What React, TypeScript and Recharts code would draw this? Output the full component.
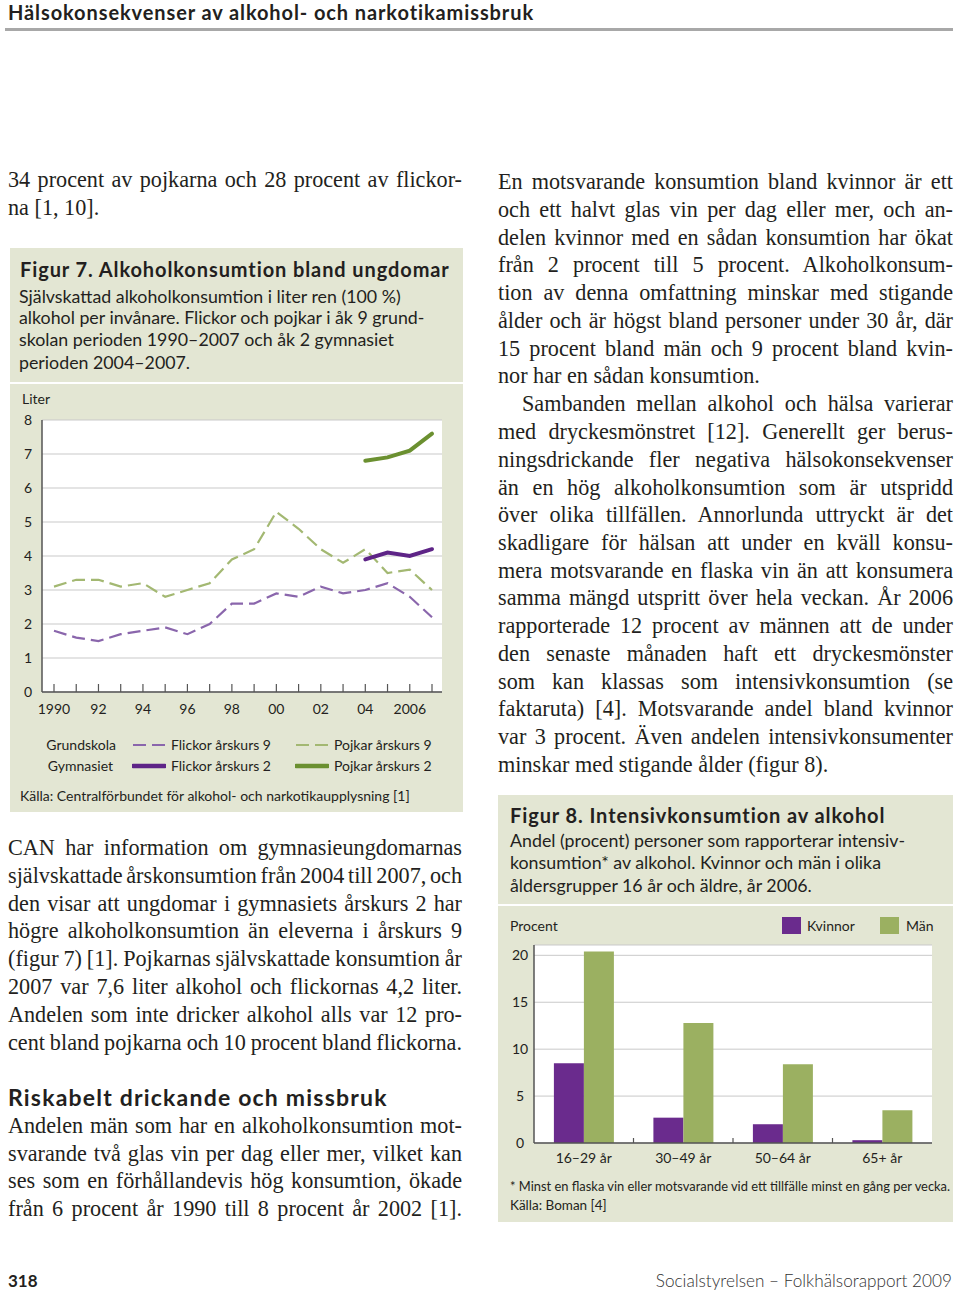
import React from 'react'
import { LineChart, Line, XAxis, YAxis, CartesianGrid, BarChart, Bar } from 'recharts'

// Figur 7 – liter ren alkohol per år
const years = [1990, 1991, 1992, 1993, 1994, 1995, 1996, 1997, 1998, 1999, 2000, 2001, 2002, 2003, 2004, 2005, 2006, 2007]
const flickor9 = [1.8, 1.6, 1.5, 1.7, 1.8, 1.9, 1.7, 2.0, 2.6, 2.6, 2.9, 2.8, 3.1, 2.9, 3.0, 3.2, 2.8, 2.2]
const pojkar9 = [3.1, 3.3, 3.3, 3.1, 3.2, 2.8, 3.0, 3.2, 3.9, 4.2, 5.3, 4.8, 4.2, 3.8, 4.2, 3.5, 3.6, 3.0]
const gymYears = [2004, 2005, 2006, 2007]
const flickor2 = [3.9, 4.1, 4.0, 4.2]
const pojkar2 = [6.8, 6.9, 7.1, 7.6]
const literTicks = [0, 1, 2, 3, 4, 5, 6, 7, 8]

// Figur 8 – intensivkonsumtion, procent
const ageGroups = ['16–29 år', '30–49 år', '50–64 år', '65+ år']
const kvinnor = [8.5, 2.7, 2.0, 0.3]
const man = [20.4, 12.8, 8.4, 3.5]
const procentTicks = [0, 5, 10, 15, 20]

const SERIF = '"Liberation Serif", "Times New Roman", serif'
const SANS = 'Lato, "Open Sans", sans-serif'
const INK = '#231f20'
const BOX = '#e3e6d3'

const PURPLE_D = '#8a66ac'
const GREEN_D = '#a3b872'
const PURPLE = '#5e2487'
const GREEN = '#6b9030'
const BAR_PURPLE = '#6a2b8d'
const BAR_GREEN = '#9bb061'

const lineData = years.map((year, i) => {
  const g = gymYears.indexOf(year)
  return {
    year,
    f9: flickor9[i],
    p9: pojkar9[i],
    f2: g >= 0 ? flickor2[g] : null,
    p2: g >= 0 ? pojkar2[g] : null,
  }
})

const barData = ageGroups.map((group, i) => ({ group, kvinnor: kvinnor[i], man: man[i] }))

const yearLabel = (y: number) => {
  if (y % 2 !== 0) return ''
  if (y === 1990 || y === 2006) return String(y)
  return String(y).slice(2)
}

// text lines of the page (each rendered justified on its own)
const leftTop = [
  { t: '34 procent av pojkarna och 28 procent av flickor-', y: 180 },
  { t: 'na [1, 10].', y: 208, last: true },
]
const leftMid = [
  { t: 'CAN har information om gymnasieungdomarnas', y: 848 },
  { t: 'självskattade årskonsumtion från 2004 till 2007, och', y: 876 },
  { t: 'den visar att ungdomar i gymnasiets årskurs 2 har', y: 904 },
  { t: 'högre alkoholkonsumtion än eleverna i årskurs 9', y: 931 },
  { t: '(figur 7) [1]. Pojkarnas självskattade konsumtion år', y: 959 },
  { t: '2007 var 7,6 liter alkohol och flickornas 4,2 liter.', y: 987 },
  { t: 'Andelen som inte dricker alkohol alls var 12 pro-', y: 1015 },
  { t: 'cent bland pojkarna och 10 procent bland flickorna.', y: 1043 },
]
const leftBottom = [
  { t: 'Andelen män som har en alkoholkonsumtion mot-', y: 1126 },
  { t: 'svarande två glas vin per dag eller mer, vilket kan', y: 1154 },
  { t: 'ses som en förhållandevis hög konsumtion, ökade', y: 1181 },
  { t: 'från 6 procent år 1990 till 8 procent år 2002 [1].', y: 1209 },
]
const rightText = [
  { t: 'En motsvarande konsumtion bland kvinnor är ett', y: 182 },
  { t: 'och ett halvt glas vin per dag eller mer, och an-', y: 210 },
  { t: 'delen kvinnor med en sådan konsumtion har ökat', y: 238 },
  { t: 'från 2 procent till 5 procent. Alkoholkonsum-', y: 265 },
  { t: 'tion av denna omfattning minskar med stigande', y: 293 },
  { t: 'ålder och är högst bland personer under 30 år, där', y: 321 },
  { t: '15 procent bland män och 9 procent bland kvin-', y: 349 },
  { t: 'nor har en sådan konsumtion.', y: 376, last: true },
  { t: 'Sambanden mellan alkohol och hälsa varierar', y: 404, indent: true },
  { t: 'med dryckesmönstret [12]. Generellt ger berus-', y: 432 },
  { t: 'ningsdrickande fler negativa hälsokonsekvenser', y: 460 },
  { t: 'än en hög alkoholkonsumtion som är utspridd', y: 488 },
  { t: 'över olika tillfällen. Annorlunda uttryckt är det', y: 515 },
  { t: 'skadligare för hälsan att under en kväll konsu-', y: 543 },
  { t: 'mera motsvarande en flaska vin än att konsumera', y: 571 },
  { t: 'samma mängd utspritt över hela veckan. År 2006', y: 598 },
  { t: 'rapporterade 12 procent av männen att de under', y: 626 },
  { t: 'den senaste månaden haft ett dryckesmönster', y: 654 },
  { t: 'som kan klassas som intensivkonsumtion (se', y: 682 },
  { t: 'faktaruta) [4]. Motsvarande andel bland kvinnor', y: 709 },
  { t: 'var 3 procent. Även andelen intensivkonsumenter', y: 737 },
  { t: 'minskar med stigande ålder (figur 8).', y: 765, last: true },
]

type TextLine = { t: string; y: number; last?: boolean; indent?: boolean }

function Body({ lines, left, width }: { lines: TextLine[]; left: number; width: number }) {
  return (
    <>
      {lines.map((l) => (
        <div
          key={l.y}
          style={{
            position: 'absolute',
            left: left + (l.indent ? 24 : 0),
            top: l.y - 14,
            width: width - (l.indent ? 24 : 0),
            height: 28,
            lineHeight: '28px',
            fontFamily: SERIF,
            fontSize: 22.2,
            color: INK,
            whiteSpace: 'nowrap',
            // negative spacing lets tight lines fit; justify spreads them back out
            wordSpacing: l.last ? 0 : -4,
            textAlign: l.last ? 'left' : 'justify',
            textAlignLast: l.last ? 'left' : 'justify',
          }}
        >
          {l.t}
        </div>
      ))}
    </>
  )
}

function Txt({ x, y, size, children, bold, weight, color, anchor, spacing }: any) {
  const style: React.CSSProperties = {
    position: 'absolute',
    top: y - size * 0.7,
    lineHeight: `${size * 1.4}px`,
    fontFamily: SANS,
    fontSize: size,
    fontWeight: bold ? 700 : weight || 400,
    letterSpacing: spacing || 0,
    color: color || INK,
    whiteSpace: 'nowrap',
  }
  if (anchor === 'end') style.right = 960 - x
  else style.left = x
  return <div style={style}>{children}</div>
}

const YearTick = ({ x, y, payload }: any) => (
  <g>
    <line x1={x} x2={x} y1={y} y2={y - 8} stroke="#555" strokeWidth={1.2} />
    <text x={x} y={y + 22} textAnchor="middle" fontFamily={SANS} fontSize={14} fill={INK}>
      {yearLabel(payload.value)}
    </text>
  </g>
)

const GroupTick = ({ x, y, payload, index, visibleTicksCount }: any) => (
  <g>
    {index < visibleTicksCount - 1 && (
      <line x1={x + payload.offset} x2={x + payload.offset} y1={y} y2={y - 5} stroke="#555" strokeWidth={1.2} />
    )}
    <text x={x} y={y + 20} textAnchor="middle" fontFamily={SANS} fontSize={14} fill={INK}>
      {payload.value}
    </text>
  </g>
)

const CenterTick = ({ x, y, payload }: any) => (
  <text x={x} y={y + 5} textAnchor="middle" fontFamily={SANS} fontSize={14} fill={INK}>
    {payload.value}
  </text>
)

function Figure7() {
  return (
    <LineChart width={452} height={340} data={lineData} margin={{ top: 36, right: 20, bottom: 5, left: 0 }}>
      <CartesianGrid vertical={false} stroke="#c9c9c9" fill="#fff" />
      <XAxis
        dataKey="year"
        type="number"
        domain={[1990, 2007]}
        ticks={years}
        interval={0}
        padding={{ left: 12, right: 10 }}
        height={27}
        tickSize={0}
        tickMargin={0}
        tickLine={false}
        axisLine={{ stroke: '#555', strokeWidth: 1.5 }}
        tick={<YearTick />}
      />
      <XAxis xAxisId="top" orientation="top" dataKey="year" type="number" domain={[1990, 2007]} height={0} tick={false} tickLine={false} axisLine={{ stroke: '#777' }} />
      <YAxis
        domain={[0, 8]}
        ticks={literTicks}
        width={32}
        tickSize={0}
        tickMargin={10}
        tickLine={false}
        axisLine={{ stroke: '#555', strokeWidth: 1.5 }}
        tick={{ fill: INK, fontSize: 14, fontFamily: SANS }}
      />
      <YAxis yAxisId="right" orientation="right" domain={[0, 8]} width={0} tick={false} tickLine={false} axisLine={{ stroke: '#777' }} />
      <Line dataKey="f9" stroke={PURPLE_D} strokeWidth={2.2} strokeDasharray="13 6" dot={false} isAnimationActive={false} />
      <Line dataKey="p9" stroke={GREEN_D} strokeWidth={2.2} strokeDasharray="13 6" dot={false} isAnimationActive={false} />
      <Line dataKey="f2" stroke={PURPLE} strokeWidth={4} strokeLinecap="round" dot={false} isAnimationActive={false} />
      <Line dataKey="p2" stroke={GREEN} strokeWidth={4} strokeLinecap="round" dot={false} isAnimationActive={false} />
    </LineChart>
  )
}

function Figure8() {
  return (
    <BarChart width={455} height={270} data={barData} margin={{ top: 38, right: 21, bottom: 5, left: 0 }} barCategoryGap="20%" barGap={0}>
      <CartesianGrid vertical={false} stroke="#c9c9c9" fill="#fff" />
      <XAxis
        dataKey="group"
        height={29}
        tickSize={0}
        tickMargin={0}
        tickLine={false}
        interval={0}
        axisLine={{ stroke: '#555', strokeWidth: 1.5 }}
        tick={<GroupTick />}
      />
      <XAxis xAxisId="top" orientation="top" dataKey="group" height={0} tick={false} tickLine={false} axisLine={{ stroke: '#777' }} />
      <YAxis
        domain={[0, 21.1]}
        ticks={procentTicks}
        width={36}
        tickSize={0}
        tickMargin={14}
        tickLine={false}
        axisLine={{ stroke: '#555', strokeWidth: 1.5 }}
        tick={<CenterTick />}
      />
      <YAxis yAxisId="right" orientation="right" domain={[0, 21.1]} width={0} tick={false} tickLine={false} axisLine={{ stroke: '#777' }} />
      <Bar dataKey="kvinnor" fill={BAR_PURPLE} isAnimationActive={false} />
      <Bar dataKey="man" fill={BAR_GREEN} isAnimationActive={false} />
    </BarChart>
  )
}

const LegendLine = ({ x, y, color, dashed }: any) => (
  <svg style={{ position: 'absolute', left: x, top: y - 4 }} width={34} height={8}>
    <line x1={1} x2={33} y1={4} y2={4} stroke={color} strokeWidth={dashed ? 2 : 4.5} strokeDasharray={dashed ? '13 6' : undefined} strokeLinecap={dashed ? 'butt' : 'round'} />
  </svg>
)

export default function App() {
  return (
    <div style={{ position: 'absolute', left: 0, top: 0, width: 960, height: 1296, background: '#fff', overflow: 'hidden' }}>
      {/* running head */}
      <Txt x={8} y={12} size={20} bold spacing={0.9}>Hälsokonsekvenser av alkohol- och narkotikamissbruk</Txt>
      <div style={{ position: 'absolute', left: 5, top: 28, width: 948, height: 3, background: '#a8a8a8' }} />

      <Body lines={leftTop} left={8} width={454} />

      {/* Figur 7 box */}
      <div style={{ position: 'absolute', left: 10, top: 248, width: 453, height: 134, background: BOX }} />
      <div style={{ position: 'absolute', left: 10, top: 384, width: 453, height: 428, background: BOX }} />
      <Txt x={20} y={269} size={20} bold spacing={0.9}>Figur 7. Alkoholkonsumtion bland ungdomar</Txt>
      <Txt x={19} y={296} size={17.8}>Självskattad alkoholkonsumtion i liter ren (100 %)</Txt>
      <Txt x={19} y={317} size={17.8}>alkohol per invånare. Flickor och pojkar i åk 9 grund-</Txt>
      <Txt x={19} y={339} size={17.8}>skolan perioden 1990–2007 och åk 2 gymnasiet</Txt>
      <Txt x={19} y={362} size={17.8}>perioden 2004–2007.</Txt>
      <Txt x={22} y={399} size={14}>Liter</Txt>
      <div style={{ position: 'absolute', left: 10, top: 384 }}>
        <Figure7 />
      </div>
      <Txt x={116} y={745} size={14} anchor="end">Grundskola</Txt>
      <Txt x={113} y={766} size={14} anchor="end">Gymnasiet</Txt>
      <LegendLine x={132} y={745} color={PURPLE_D} dashed />
      <LegendLine x={132} y={766} color={PURPLE} />
      <Txt x={171} y={745} size={14}>Flickor årskurs 9</Txt>
      <Txt x={171} y={766} size={14}>Flickor årskurs 2</Txt>
      <LegendLine x={295} y={745} color={GREEN_D} dashed />
      <LegendLine x={295} y={766} color={GREEN} />
      <Txt x={334} y={745} size={14}>Pojkar årskurs 9</Txt>
      <Txt x={334} y={766} size={14}>Pojkar årskurs 2</Txt>
      <Txt x={20} y={796} size={14}>Källa: Centralförbundet för alkohol- och narkotikaupplysning [1]</Txt>

      <Body lines={leftMid} left={8} width={454} />
      <Txt x={8} y={1097} size={23} bold spacing={1.2}>Riskabelt drickande och missbruk</Txt>
      <Body lines={leftBottom} left={8} width={454} />

      <Body lines={rightText} left={498} width={455} />

      {/* Figur 8 box */}
      <div style={{ position: 'absolute', left: 498, top: 795, width: 455, height: 109, background: BOX }} />
      <div style={{ position: 'absolute', left: 498, top: 906, width: 455, height: 316, background: BOX }} />
      <Txt x={510} y={815} size={20} bold spacing={0.9}>Figur 8. Intensivkonsumtion av alkohol</Txt>
      <Txt x={510} y={840} size={17.8}>Andel (procent) personer som rapporterar intensiv-</Txt>
      <Txt x={510} y={862} size={17.8}>konsumtion* av alkohol. Kvinnor och män i olika</Txt>
      <Txt x={510} y={885} size={17.8}>åldersgrupper 16 år och äldre, år 2006.</Txt>
      <Txt x={510} y={926} size={14}>Procent</Txt>
      <div style={{ position: 'absolute', left: 782, top: 917, width: 19, height: 17, background: BAR_PURPLE }} />
      <Txt x={807} y={926} size={14}>Kvinnor</Txt>
      <div style={{ position: 'absolute', left: 880, top: 917, width: 19, height: 17, background: BAR_GREEN }} />
      <Txt x={906} y={926} size={14}>Män</Txt>
      <div style={{ position: 'absolute', left: 498, top: 907 }}>
        <Figure8 />
      </div>
      <Txt x={510} y={1186} size={12.9}>* Minst en flaska vin eller motsvarande vid ett tillfälle minst en gång per vecka.</Txt>
      <Txt x={510} y={1205} size={13.5}>Källa: Boman [4]</Txt>

      {/* footer */}
      <Txt x={8} y={1281} size={17} bold>318</Txt>
      <Txt x={952} y={1281} size={17.2} weight={300} color="#333" anchor="end">Socialstyrelsen – Folkhälsorapport 2009</Txt>
    </div>
  )
}
